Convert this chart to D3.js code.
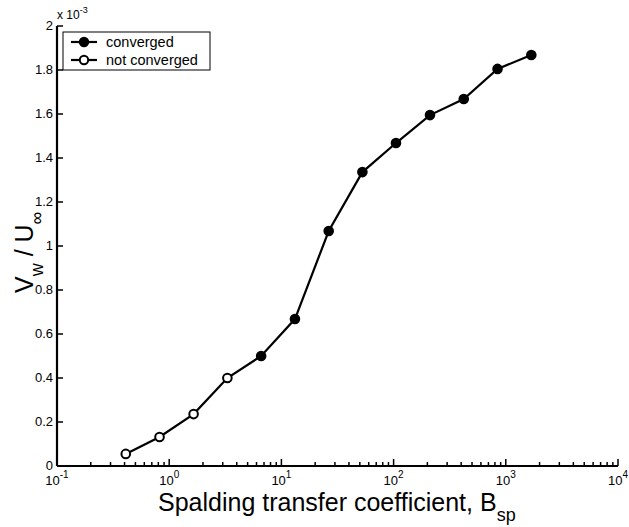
<!DOCTYPE html>
<html>
<head>
<meta charset="utf-8">
<script src="https://cdn.jsdelivr.net/npm/d3@7"></script>
<style>
  body { margin: 0; background: #fff; }
  svg { display: block; }
  text { font-family: "Liberation Sans", Arial, Helvetica, sans-serif; fill: #000; }
</style>
</head>
<body>
<svg id="chart" width="629" height="527"></svg>
<script>
// Spalding transfer coefficient values and resulting wall velocity ratio (x 10^-3)
const bsp = [0.41, 0.82, 1.65, 3.3, 6.6, 13.2, 26.4, 52.7, 105, 211, 422, 844, 1688];
const vw = [0.055, 0.132, 0.236, 0.40, 0.50, 0.668, 1.068, 1.336, 1.468, 1.595, 1.668, 1.805, 1.868];
const converged = [false, false, false, false, true, true, true, true, true, true, true, true, true];
const yTicks = [0, 0.2, 0.4, 0.6, 0.8, 1, 1.2, 1.4, 1.6, 1.8, 2];
const xDecades = [-1, 0, 1, 2, 3, 4];
const legendItems = [
  { label: "converged", filled: true },
  { label: "not converged", filled: false }
];

const svg = d3.select("#chart");
const margin = { left: 57, right: 11, top: 26, bottom: 61 };
const W = 629, H = 527;

const x = d3.scaleLog().domain([0.1, 10000]).range([margin.left, W - margin.right]);
const y = d3.scaleLinear().domain([0, 2]).range([H - margin.bottom, margin.top]);

const g = svg.append("g");

// x axis: major and minor ticks pointing into the plot
const xMinor = [];
xDecades.slice(0, -1).forEach(d => {
  for (let k = 2; k <= 9; k++) xMinor.push(k * Math.pow(10, d));
});
const x0 = y(0);
g.append("g").selectAll("line.minor").data(xMinor).join("line")
  .attr("x1", d => x(d)).attr("x2", d => x(d))
  .attr("y1", x0).attr("y2", x0 - 4)
  .attr("stroke", "#000").attr("stroke-width", 1.5);
g.append("g").selectAll("line.major").data(xDecades).join("line")
  .attr("x1", d => x(Math.pow(10, d))).attr("x2", d => x(Math.pow(10, d)))
  .attr("y1", x0).attr("y2", x0 - 7)
  .attr("stroke", "#000").attr("stroke-width", 1.5);

const xl = g.append("g").selectAll("text").data(xDecades).join("text")
  .attr("x", d => x(Math.pow(10, d)))
  .attr("y", x0 + 18.5)
  .attr("text-anchor", "middle")
  .attr("font-size", 13);
xl.append("tspan").text("10");
xl.append("tspan").attr("dy", -7).attr("font-size", 10).text(d => d);

// y axis ticks pointing right
g.append("g").selectAll("line").data(yTicks).join("line")
  .attr("x1", margin.left).attr("x2", margin.left + 6)
  .attr("y1", d => y(d)).attr("y2", d => y(d))
  .attr("stroke", "#000").attr("stroke-width", 1.5);
g.append("g").selectAll("text").data(yTicks).join("text")
  .attr("x", margin.left - 4)
  .attr("y", d => y(d) + 3.5)
  .attr("text-anchor", "end")
  .attr("font-size", 13)
  .text(d => d3.format("")(d));

// axis lines
g.append("line").attr("x1", margin.left).attr("x2", W - margin.right)
  .attr("y1", x0).attr("y2", x0).attr("stroke", "#000").attr("stroke-width", 2.2);
g.append("line").attr("x1", margin.left).attr("x2", margin.left)
  .attr("y1", x0).attr("y2", y(2)).attr("stroke", "#000").attr("stroke-width", 2.2);

// exponent label
const ex = g.append("text").attr("x", margin.left).attr("y", 19).attr("font-size", 12);
ex.append("tspan").text("x 10");
ex.append("tspan").attr("dy", -6).attr("font-size", 9).text("-3");

// data line and markers
const pts = bsp.map((b, i) => ({ b, v: vw[i], c: converged[i] }));
g.append("path").datum(pts)
  .attr("d", d3.line().x(d => x(d.b)).y(d => y(d.v)))
  .attr("fill", "none").attr("stroke", "#000").attr("stroke-width", 2.2);
g.append("g").selectAll("circle").data(pts).join("circle")
  .attr("cx", d => x(d.b)).attr("cy", d => y(d.v)).attr("r", 4.3)
  .attr("fill", d => d.c ? "#000" : "#fff")
  .attr("stroke", "#000").attr("stroke-width", 2);

// legend
const lg = g.append("g");
lg.append("rect").attr("x", 63).attr("y", 32).attr("width", 147).attr("height", 38)
  .attr("fill", "#fff").attr("stroke", "#000").attr("stroke-width", 1);
legendItems.forEach((it, i) => {
  const ly = 42 + i * 18;
  lg.append("line").attr("x1", 71).attr("x2", 97).attr("y1", ly).attr("y2", ly)
    .attr("stroke", "#000").attr("stroke-width", 2.2);
  lg.append("circle").attr("cx", 84).attr("cy", ly).attr("r", 4.2)
    .attr("fill", it.filled ? "#000" : "#fff").attr("stroke", "#000").attr("stroke-width", 2);
  lg.append("text").attr("x", 106).attr("y", ly + 4.5).attr("font-size", 14.5).text(it.label);
});

// axis titles
const xt = g.append("text").attr("x", 158).attr("y", 510.5).attr("font-size", 25);
xt.append("tspan").text("Spalding transfer coefficient, B");
xt.append("tspan").attr("dy", 10).attr("font-size", 18).text("sp");

const yt = g.append("text").attr("transform", "translate(33,293) rotate(-90)").attr("font-size", 25);
yt.append("tspan").text("V");
yt.append("tspan").attr("dy", 10).attr("font-size", 18).text("w");
yt.append("tspan").attr("dy", -10).text(" / U");
yt.append("tspan").attr("dy", 10).attr("font-size", 18).text("∞");
</script>
</body>
</html>
